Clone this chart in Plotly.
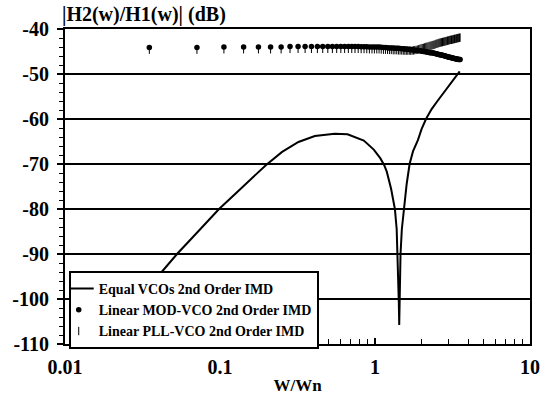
import plotly.graph_objects as go

# ---- data ----
# Equal VCOs 2nd order IMD (line)
eq_x = [0.0354, 0.0411, 0.0528, 0.07, 0.0986, 0.135, 0.1706, 0.1983, 0.2516, 0.3207,
        0.409, 0.549, 0.665, 0.847, 0.982, 1.081, 1.145, 1.191, 1.27, 1.344,
        1.38, 1.40, 1.415, 1.425, 1.433, 1.44, 1.45, 1.461, 1.49, 1.532,
        1.6, 1.672, 1.758, 1.891, 2.0, 2.133, 2.32, 2.53, 2.8, 3.07, 3.3, 3.52]
eq_y = [-97.0, -94.4, -90.0, -85.5, -80.0, -75.6, -72.3, -70.2, -67.3, -65.1,
        -63.8, -63.3, -63.4, -64.8, -66.8, -68.7, -70.2, -71.7, -75.5, -80.0,
        -84.5, -90.0, -96.0, -101.0, -105.8, -100.0, -94.0, -90.0, -84.5, -80.0,
        -74.5, -70.0, -67.2, -64.7, -62.2, -60.0, -57.8, -56.0, -54.0, -52.2, -50.8, -49.4]

# frequency points shared by the two marker series
w_x = [0.035, 0.071, 0.106, 0.142, 0.177, 0.212, 0.248, 0.283, 0.319, 0.354,
       0.389, 0.425, 0.460, 0.496, 0.531, 0.566, 0.602, 0.637, 0.673, 0.708,
       0.743, 0.779, 0.814, 0.850, 0.885, 0.920, 0.956, 0.991, 1.027, 1.062,
       1.097, 1.133, 1.168, 1.204, 1.239, 1.274, 1.310, 1.345, 1.381, 1.416,
       1.451, 1.487, 1.522, 1.558, 1.593, 1.628, 1.664, 1.699, 1.735, 1.770,
       1.805, 1.841, 1.876, 1.912, 1.947, 1.982, 2.018, 2.053, 2.089, 2.124,
       2.159, 2.195, 2.230, 2.266, 2.301, 2.336, 2.372, 2.407, 2.443, 2.478,
       2.513, 2.549, 2.584, 2.620, 2.655, 2.690, 2.726, 2.761, 2.797, 2.832,
       2.867, 2.903, 2.938, 2.974, 3.009, 3.044, 3.080, 3.115, 3.151, 3.186,
       3.221, 3.257, 3.292, 3.328, 3.363, 3.398, 3.434, 3.469, 3.505, 3.540]

# Linear MOD-VCO 2nd order IMD (dots)
mod_y = [-44.1, -44.1, -44.0, -44.0, -44.0, -44.0, -44.0, -43.9, -43.9, -43.9,
         -43.9, -43.9, -43.9, -43.9, -43.9, -43.9, -43.9, -43.9, -43.9, -43.9,
         -43.9, -43.9, -43.95, -43.95, -43.95, -44.0, -44.0, -44.0, -44.0, -44.0,
         -44.05, -44.1, -44.1, -44.15, -44.2, -44.2, -44.2, -44.25, -44.3, -44.3,
         -44.35, -44.4, -44.4, -44.45, -44.5, -44.5, -44.55, -44.6, -44.6, -44.65,
         -44.7, -44.7, -44.75, -44.8, -44.85, -44.9, -44.95, -45.0, -45.0, -45.05,
         -45.1, -45.15, -45.2, -45.25, -45.3, -45.3, -45.35, -45.4, -45.45, -45.5,
         -45.55, -45.6, -45.65, -45.7, -45.75, -45.8, -45.85, -45.9, -45.95, -46.0,
         -46.05, -46.1, -46.15, -46.2, -46.25, -46.3, -46.35, -46.4, -46.45, -46.5,
         -46.5, -46.55, -46.6, -46.6, -46.65, -46.7, -46.7, -46.75, -46.8, -46.8]

# Linear PLL-VCO 2nd order IMD (small tick markers)
pll_y = [-44.6, -44.6, -44.5, -44.5, -44.5, -44.5, -44.5, -44.4, -44.4, -44.4,
         -44.4, -44.4, -44.4, -44.4, -44.4, -44.4, -44.4, -44.4, -44.4, -44.4,
         -44.4, -44.4, -44.45, -44.45, -44.45, -44.5, -44.5, -44.5, -44.5, -44.5,
         -44.55, -44.6, -44.6, -44.6, -44.65, -44.65, -44.7, -44.7, -44.7, -44.75,
         -44.75, -44.75, -44.8, -44.8, -44.8, -44.8, -44.8, -44.8, -44.8, -44.75,
         -44.7, -44.65, -44.6, -44.5, -44.4, -44.3, -44.25, -44.2, -44.1, -44.0,
         -43.95, -43.9, -43.8, -43.75, -43.7, -43.6, -43.55, -43.5, -43.4, -43.3,
         -43.25, -43.2, -43.1, -43.05, -43.0, -42.95, -42.9, -42.85, -42.8, -42.75,
         -42.7, -42.65, -42.6, -42.55, -42.5, -42.45, -42.4, -42.4, -42.35, -42.3,
         -42.25, -42.2, -42.2, -42.15, -42.1, -42.05, -42.0, -42.0, -41.95, -41.9]

x_tickvals = [0.01, 0.1, 1, 10]
x_ticktext = ["0.01", "0.1", "1", "10"]
x_minor = [0.02, 0.03, 0.04, 0.05, 0.06, 0.07, 0.08, 0.09,
           0.2, 0.3, 0.4, 0.5, 0.6, 0.7, 0.8, 0.9,
           2, 3, 4, 5, 6, 7, 8, 9]
y_tickvals = [-40, -50, -60, -70, -80, -90, -100, -110]
y_ticktext = ["-40", "-50", "-60", "-70", "-80", "-90", "-100", "-110"]

FONT = "Liberation Serif, Times New Roman, serif"

fig = go.Figure()
fig.add_trace(go.Scatter(x=eq_x, y=eq_y, mode="lines", name="Equal VCOs 2nd Order IMD",
                         line=dict(color="black", width=2)))
fig.add_trace(go.Scatter(x=w_x, y=mod_y, mode="markers", name="Linear MOD-VCO 2nd Order IMD",
                         marker=dict(symbol="circle", size=5.5, color="black")))
fig.add_trace(go.Scatter(x=w_x, y=pll_y, mode="markers", name="Linear PLL-VCO 2nd Order IMD",
                         marker=dict(symbol="line-ns", size=6, color="black",
                                     line=dict(color="black", width=1))))

fig.update_layout(
    width=552, height=413,
    margin=dict(l=61, r=15, t=29, b=69),
    paper_bgcolor="white", plot_bgcolor="white",
    font=dict(family=FONT, size=17, color="black", weight="bold"),
    showlegend=True,
    legend=dict(x=0.008, y=0.2317, xanchor="left", yanchor="top",
                bgcolor="white", bordercolor="black", borderwidth=2,
                font=dict(family=FONT, size=14, color="black", weight="bold"),
                tracegroupgap=0, itemwidth=30, indentation=-12),
    title=dict(text="|H2(w)/H1(w)| (dB)", xref="container", yref="container",
               x=62 / 552, xanchor="left", y=1 - 14 / 413, yanchor="middle",
               font=dict(family=FONT, size=20, weight="bold"), pad=dict(l=0, r=0, t=0, b=0)),
    xaxis=dict(type="log", range=[-2, 1], tickvals=x_tickvals, ticktext=x_ticktext,
               ticks="inside", ticklen=6, tickwidth=1.5, tickcolor="black",
               ticklabelstandoff=4,
               showgrid=False, zeroline=False,
               showline=True, linecolor="black", linewidth=2, mirror=True,
               minor=dict(tickvals=x_minor, ticks="inside", ticklen=5, tickwidth=1.2,
                          tickcolor="black", showgrid=False),
               tickfont=dict(family=FONT, size=20, weight="bold"),
               title=dict(text="W/Wn", font=dict(family=FONT, size=17, weight="bold"),
                          standoff=2)),
    yaxis=dict(range=[-110, -40], tickvals=y_tickvals, ticktext=y_ticktext,
               ticks="outside", ticklen=6, tickwidth=1.5, tickcolor="black",
               ticklabelstandoff=4,
               showgrid=True, gridcolor="black", gridwidth=2, zeroline=False,
               showline=True, linecolor="black", linewidth=2, mirror=True,
               minor=dict(dtick=2, ticks="outside", ticklen=4, tickwidth=1.2,
                          tickcolor="black", showgrid=False),
               tickfont=dict(family=FONT, size=20, weight="bold")),
)

fig.write_html("out.html", config={"displayModeBar": False},
               post_script="document.body.style.margin='0';")
